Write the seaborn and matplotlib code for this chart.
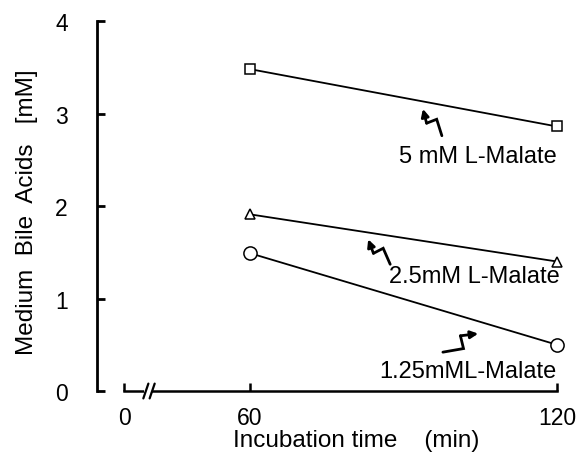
import numpy as np
import pandas as pd
import matplotlib
matplotlib.use('Agg')
import matplotlib.pyplot as plt
import matplotlib.transforms as mtransforms
import seaborn as sns

# data
times = [60, 120]
malate_5 = [3.48, 2.86]
malate_25 = [1.91, 1.40]
malate_125 = [1.49, 0.50]
labels = ['5 mM L-Malate', '2.5mM L-Malate', '1.25mML-Malate']
markers = ['s', '^', 'o']
marker_sizes = [7, 7.5, 9.5]

sns.set_style('ticks')
plt.rcParams['font.family'] = ['Liberation Sans', 'DejaVu Sans']
for k in ['text.color', 'axes.labelcolor', 'xtick.color', 'ytick.color', 'axes.edgecolor']:
    plt.rcParams[k] = 'black'

fig = plt.figure(figsize=(5.82, 4.6), dpi=100)
ax = fig.add_axes([0.1667, 0.1478, 0.8123, 0.8043])

# broken x axis: 0..60 is compressed
def fwd(x):
    x = np.asarray(x, float)
    return np.where(x <= 60, x * 2.1, 126 + (x - 60) * 5.117)

def inv(u):
    u = np.asarray(u, float)
    return np.where(u <= 126, u / 2.1, 60 + (u - 126) / 5.117)

ax.set_xscale('function', functions=(fwd, inv))

series = [malate_5, malate_25, malate_125]
for vals, m, ms in zip(series, markers, marker_sizes):
    df = pd.DataFrame({'t': times, 'v': vals})
    sns.lineplot(data=df, x='t', y='v', ax=ax, color='black', lw=1.3,
                 marker=m, markersize=ms, markerfacecolor='white',
                 markeredgecolor='black', markeredgewidth=1.1, clip_on=False, zorder=3)

ax.set_xlim(-12.86, 122.5)
ax.set_ylim(0, 4)
ax.set_xticks([0, 60, 120])
ax.set_xticklabels(['0', '60', '120'])
ax.set_yticks([0, 1, 2, 3, 4])

for s in ['top', 'right']:
    ax.spines[s].set_visible(False)
ax.spines['left'].set_linewidth(2.0)
ax.spines['bottom'].set_linewidth(1.8)
ax.spines['bottom'].set_bounds(0, 120)
ax.tick_params(axis='y', direction='in', length=6, width=2.0, pad=21, labelsize=16.5)
ax.tick_params(axis='x', direction='in', length=6, width=1.8, pad=11, labelsize=16.5)

ax.set_ylabel('Medium  Bile  Acids   [mM]', fontsize=17.5)
ax.yaxis.set_label_coords(-0.125, 0.486)
ax.set_xlabel('Incubation time    (min)', fontsize=17.5)
ax.xaxis.set_label_coords(0.548, -0.103)

# axis break marks
tr = mtransforms.blended_transform_factory(ax.transData, ax.transAxes)
ax.plot([10.3, 12.6], [0, 0], color='white', lw=3, transform=tr, clip_on=False, zorder=4)
for x0 in [9.2, 12.2]:
    ax.plot([x0, x0 + 2.4], [-0.02, 0.02], color='black', lw=1.6,
            transform=tr, clip_on=False, zorder=5)

# labels
text_pos = [(120, 2.54), (120.6, 1.24), (120, 0.22)]
for lab, (tx, ty) in zip(labels, text_pos):
    ax.text(tx, ty, lab, ha='right', va='center', fontsize=17)

# zigzag arrows: (tip x, tip y, tail x, tail y)
arrows = [(93.8, 3.05, 97.5, 2.76), (83.1, 1.64, 87.4, 1.37), (104.6, 0.62, 97.7, 0.42)]
ident = mtransforms.IdentityTransform()
for x1, y1, x2, y2 in arrows:
    tip = ax.transData.transform((x1, y1))
    tail = ax.transData.transform((x2, y2))
    d = tail - tip
    L = np.hypot(*d)
    u = d / L
    n = np.array([-u[1], u[0]])
    p1 = tip + u * L * 0.42 - n * L * 0.16
    p2 = tip + u * L * 0.5 + n * L * 0.16
    pts = np.array([p1, p2, tail])
    ax.plot(pts[:, 0], pts[:, 1], color='black', lw=2.0, transform=ident,
            clip_on=False, solid_capstyle='round', solid_joinstyle='miter')
    ax.annotate('', xy=tip, xycoords='figure pixels', xytext=p1, textcoords='figure pixels',
                arrowprops=dict(arrowstyle='-|>', color='black', lw=2.0, mutation_scale=11,
                                shrinkA=0, shrinkB=0))

fig.savefig('out.png', dpi=100)
